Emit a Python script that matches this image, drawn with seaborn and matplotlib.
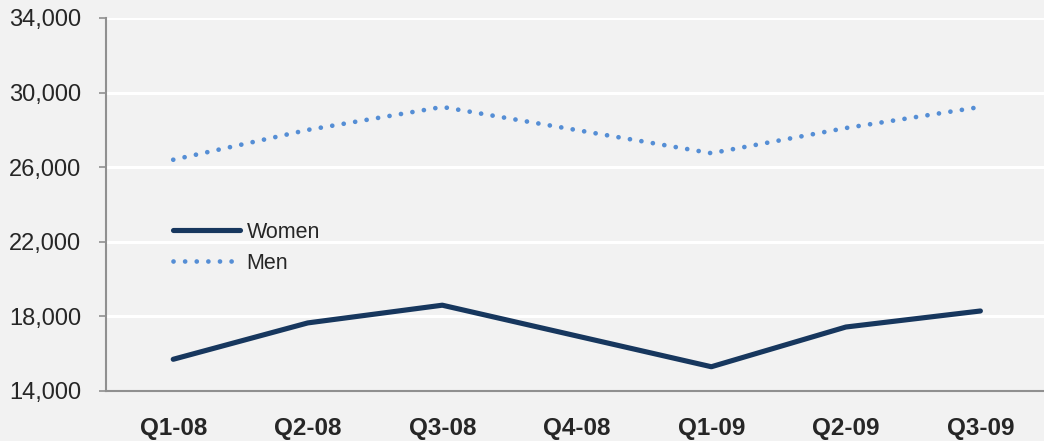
import numpy as np
import pandas as pd
import matplotlib
matplotlib.use("Agg")
import matplotlib.pyplot as plt
import seaborn as sns

quarters = ["Q1-08", "Q2-08", "Q3-08", "Q4-08", "Q1-09", "Q2-09", "Q3-09"]
women = [15700, 17650, 18600, np.nan, 15300, 17430, 18290]
men = [26400, 28000, 29230, np.nan, 26750, 28100, 29230]
y_ticks = [14000, 18000, 22000, 26000, 30000, 34000]

BG = "#f2f2f2"
WOMEN_C = "#17375e"
MEN_C = "#558ed5"
DOTS = (0, (0.01, 2.45))

sns.set_theme(style="white")
plt.rcParams["font.family"] = ["Liberation Sans", "DejaVu Sans"]

df = pd.DataFrame({"x": np.arange(len(quarters)), "Women": women, "Men": men})

fig = plt.figure(figsize=(10.44, 4.41), dpi=100, facecolor=BG)
ax = fig.add_axes([0.1015, 0.1134, 0.902, 0.8458])
ax.set_facecolor(BG)

for yv in y_ticks[1:]:
    ax.axhline(yv, color="white", lw=2.2, zorder=0)

w = df.dropna(subset=["Women"])
m = df.dropna(subset=["Men"])
sns.lineplot(x=w["x"], y=w["Women"], ax=ax, color=WOMEN_C, lw=3.7,
             label="Women", solid_capstyle="round", solid_joinstyle="round")
sns.lineplot(x=m["x"], y=m["Men"], ax=ax, color=MEN_C, lw=3.4,
             linestyle=DOTS, dash_capstyle="round", label="Men")

ax.set_xlim(-0.5, len(quarters) - 0.5)
ax.set_ylim(14000, 34000)
ax.set_yticks(y_ticks)
ax.set_yticklabels([f"{v:,}" for v in y_ticks], fontsize=17)
ax.set_xticks(np.arange(len(quarters)))
ax.set_xticklabels(quarters, fontsize=17.5, fontweight="bold")
ax.set_xticks(np.arange(len(quarters) + 1) - 0.5, minor=True)
ax.tick_params(axis="x", which="major", length=0, pad=19)
ax.tick_params(axis="x", which="minor", length=5, color="#909090", width=1.2)
ax.tick_params(axis="y", length=5, color="#909090", width=1.2, pad=13, left=True)
ax.set_xlabel("")
ax.set_ylabel("")

for side in ["top", "right"]:
    ax.spines[side].set_visible(False)
for side in ["left", "bottom"]:
    ax.spines[side].set_color("#909090")
    ax.spines[side].set_linewidth(1.5)

leg = ax.legend(loc="center left", bbox_to_anchor=(0.051, 0.384), frameon=False,
                fontsize=15.5, handlelength=3.1, handletextpad=0.3, labelspacing=0.45)
leg.legend_handles[1].set_linestyle(DOTS)
leg.legend_handles[1].set_dash_capstyle("round")

fig.savefig("out.png", dpi=100, facecolor=BG)
